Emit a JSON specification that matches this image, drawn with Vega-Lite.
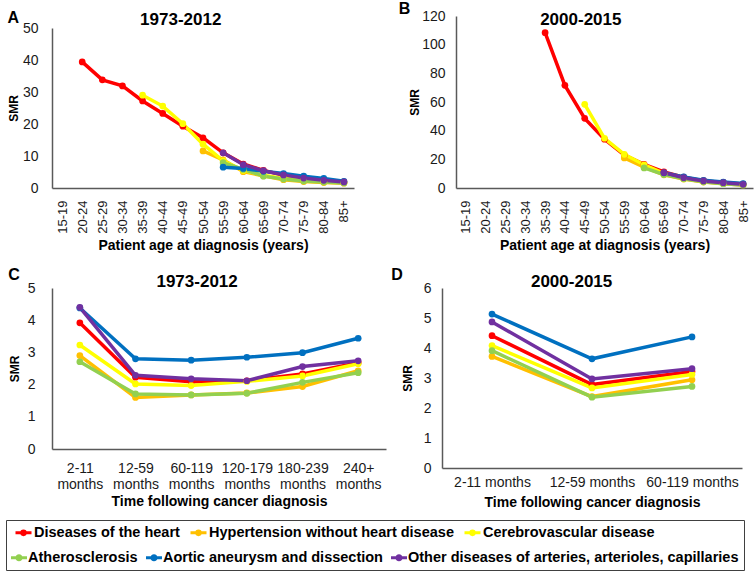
{
  "$schema": "https://vega.github.io/schema/vega-lite/v6.json",
  "background": "white",
  "padding": {"left": 5, "top": 1, "right": 5, "bottom": 5},
  "datasets": {
    "ageA": [
      {"cause": "Diseases of the heart", "age": "20-24", "smr": 39.4},
      {"cause": "Diseases of the heart", "age": "25-29", "smr": 33.8},
      {"cause": "Diseases of the heart", "age": "30-34", "smr": 31.9},
      {"cause": "Diseases of the heart", "age": "35-39", "smr": 27.2},
      {"cause": "Diseases of the heart", "age": "40-44", "smr": 23.3},
      {"cause": "Diseases of the heart", "age": "45-49", "smr": 19.3},
      {"cause": "Diseases of the heart", "age": "50-54", "smr": 15.7},
      {"cause": "Diseases of the heart", "age": "55-59", "smr": 11.0},
      {"cause": "Diseases of the heart", "age": "60-64", "smr": 7.5},
      {"cause": "Diseases of the heart", "age": "65-69", "smr": 5.5},
      {"cause": "Diseases of the heart", "age": "70-74", "smr": 4.0},
      {"cause": "Diseases of the heart", "age": "75-79", "smr": 3.0},
      {"cause": "Diseases of the heart", "age": "80-84", "smr": 2.3},
      {"cause": "Diseases of the heart", "age": "85+", "smr": 1.9},
      {"cause": "Hypertension without heart disease", "age": "50-54", "smr": 11.6},
      {"cause": "Hypertension without heart disease", "age": "55-59", "smr": 8.8},
      {"cause": "Hypertension without heart disease", "age": "60-64", "smr": 5.1},
      {"cause": "Hypertension without heart disease", "age": "65-69", "smr": 3.8},
      {"cause": "Hypertension without heart disease", "age": "70-74", "smr": 2.6},
      {"cause": "Hypertension without heart disease", "age": "75-79", "smr": 2.0},
      {"cause": "Hypertension without heart disease", "age": "80-84", "smr": 1.7},
      {"cause": "Hypertension without heart disease", "age": "85+", "smr": 1.5},
      {"cause": "Cerebrovascular disease", "age": "35-39", "smr": 29.0},
      {"cause": "Cerebrovascular disease", "age": "40-44", "smr": 25.6},
      {"cause": "Cerebrovascular disease", "age": "45-49", "smr": 20.1},
      {"cause": "Cerebrovascular disease", "age": "50-54", "smr": 13.7},
      {"cause": "Cerebrovascular disease", "age": "55-59", "smr": 8.5},
      {"cause": "Cerebrovascular disease", "age": "60-64", "smr": 5.5},
      {"cause": "Cerebrovascular disease", "age": "65-69", "smr": 4.0},
      {"cause": "Cerebrovascular disease", "age": "70-74", "smr": 3.0},
      {"cause": "Cerebrovascular disease", "age": "75-79", "smr": 2.5},
      {"cause": "Cerebrovascular disease", "age": "80-84", "smr": 2.0},
      {"cause": "Cerebrovascular disease", "age": "85+", "smr": 1.7},
      {"cause": "Atherosclerosis", "age": "55-59", "smr": 7.9},
      {"cause": "Atherosclerosis", "age": "60-64", "smr": 5.8},
      {"cause": "Atherosclerosis", "age": "65-69", "smr": 3.7},
      {"cause": "Atherosclerosis", "age": "70-74", "smr": 2.8},
      {"cause": "Atherosclerosis", "age": "75-79", "smr": 2.2},
      {"cause": "Atherosclerosis", "age": "80-84", "smr": 1.9},
      {"cause": "Atherosclerosis", "age": "85+", "smr": 1.6},
      {"cause": "Aortic aneurysm and dissection", "age": "55-59", "smr": 6.5},
      {"cause": "Aortic aneurysm and dissection", "age": "60-64", "smr": 6.1},
      {"cause": "Aortic aneurysm and dissection", "age": "65-69", "smr": 5.2},
      {"cause": "Aortic aneurysm and dissection", "age": "70-74", "smr": 4.5},
      {"cause": "Aortic aneurysm and dissection", "age": "75-79", "smr": 3.7},
      {"cause": "Aortic aneurysm and dissection", "age": "80-84", "smr": 3.0},
      {"cause": "Aortic aneurysm and dissection", "age": "85+", "smr": 2.1},
      {"cause": "Other diseases of arteries, arterioles, capillaries", "age": "55-59", "smr": 11.0},
      {"cause": "Other diseases of arteries, arterioles, capillaries", "age": "60-64", "smr": 7.3},
      {"cause": "Other diseases of arteries, arterioles, capillaries", "age": "65-69", "smr": 5.4},
      {"cause": "Other diseases of arteries, arterioles, capillaries", "age": "70-74", "smr": 4.1},
      {"cause": "Other diseases of arteries, arterioles, capillaries", "age": "75-79", "smr": 3.1},
      {"cause": "Other diseases of arteries, arterioles, capillaries", "age": "80-84", "smr": 2.4},
      {"cause": "Other diseases of arteries, arterioles, capillaries", "age": "85+", "smr": 1.9}
    ],
    "ageB": [
      {"cause": "Diseases of the heart", "age": "35-39", "smr": 108.4},
      {"cause": "Diseases of the heart", "age": "40-44", "smr": 71.6},
      {"cause": "Diseases of the heart", "age": "45-49", "smr": 48.6},
      {"cause": "Diseases of the heart", "age": "50-54", "smr": 34.0},
      {"cause": "Diseases of the heart", "age": "55-59", "smr": 23.0},
      {"cause": "Diseases of the heart", "age": "60-64", "smr": 16.5},
      {"cause": "Diseases of the heart", "age": "65-69", "smr": 11.2},
      {"cause": "Diseases of the heart", "age": "70-74", "smr": 7.6},
      {"cause": "Diseases of the heart", "age": "75-79", "smr": 5.1},
      {"cause": "Diseases of the heart", "age": "80-84", "smr": 3.9},
      {"cause": "Diseases of the heart", "age": "85+", "smr": 2.8},
      {"cause": "Hypertension without heart disease", "age": "55-59", "smr": 21.0},
      {"cause": "Hypertension without heart disease", "age": "60-64", "smr": 14.5},
      {"cause": "Hypertension without heart disease", "age": "65-69", "smr": 9.2},
      {"cause": "Hypertension without heart disease", "age": "70-74", "smr": 6.2},
      {"cause": "Hypertension without heart disease", "age": "75-79", "smr": 4.1},
      {"cause": "Hypertension without heart disease", "age": "80-84", "smr": 3.0},
      {"cause": "Hypertension without heart disease", "age": "85+", "smr": 2.1},
      {"cause": "Cerebrovascular disease", "age": "45-49", "smr": 58.4},
      {"cause": "Cerebrovascular disease", "age": "50-54", "smr": 34.7},
      {"cause": "Cerebrovascular disease", "age": "55-59", "smr": 23.5},
      {"cause": "Cerebrovascular disease", "age": "60-64", "smr": 16.2},
      {"cause": "Cerebrovascular disease", "age": "65-69", "smr": 10.2},
      {"cause": "Cerebrovascular disease", "age": "70-74", "smr": 7.0},
      {"cause": "Cerebrovascular disease", "age": "75-79", "smr": 4.6},
      {"cause": "Cerebrovascular disease", "age": "80-84", "smr": 3.4},
      {"cause": "Cerebrovascular disease", "age": "85+", "smr": 2.4},
      {"cause": "Atherosclerosis", "age": "60-64", "smr": 14.0},
      {"cause": "Atherosclerosis", "age": "65-69", "smr": 9.4},
      {"cause": "Atherosclerosis", "age": "70-74", "smr": 6.5},
      {"cause": "Atherosclerosis", "age": "75-79", "smr": 4.3},
      {"cause": "Atherosclerosis", "age": "80-84", "smr": 3.0},
      {"cause": "Atherosclerosis", "age": "85+", "smr": 2.1},
      {"cause": "Aortic aneurysm and dissection", "age": "65-69", "smr": 10.6},
      {"cause": "Aortic aneurysm and dissection", "age": "70-74", "smr": 7.7},
      {"cause": "Aortic aneurysm and dissection", "age": "75-79", "smr": 5.4},
      {"cause": "Aortic aneurysm and dissection", "age": "80-84", "smr": 4.2},
      {"cause": "Aortic aneurysm and dissection", "age": "85+", "smr": 3.1},
      {"cause": "Other diseases of arteries, arterioles, capillaries", "age": "65-69", "smr": 10.7},
      {"cause": "Other diseases of arteries, arterioles, capillaries", "age": "70-74", "smr": 7.2},
      {"cause": "Other diseases of arteries, arterioles, capillaries", "age": "75-79", "smr": 4.9},
      {"cause": "Other diseases of arteries, arterioles, capillaries", "age": "80-84", "smr": 3.7},
      {"cause": "Other diseases of arteries, arterioles, capillaries", "age": "85+", "smr": 2.6}
    ],
    "timeC": [
      {"cause": "Diseases of the heart", "time": "2-11 months", "smr": 3.92},
      {"cause": "Diseases of the heart", "time": "12-59 months", "smr": 2.23},
      {"cause": "Diseases of the heart", "time": "60-119 months", "smr": 2.09},
      {"cause": "Diseases of the heart", "time": "120-179 months", "smr": 2.12},
      {"cause": "Diseases of the heart", "time": "180-239 months", "smr": 2.33},
      {"cause": "Diseases of the heart", "time": "240+ months", "smr": 2.68},
      {"cause": "Hypertension without heart disease", "time": "2-11 months", "smr": 2.90},
      {"cause": "Hypertension without heart disease", "time": "12-59 months", "smr": 1.60},
      {"cause": "Hypertension without heart disease", "time": "60-119 months", "smr": 1.68},
      {"cause": "Hypertension without heart disease", "time": "120-179 months", "smr": 1.74},
      {"cause": "Hypertension without heart disease", "time": "180-239 months", "smr": 1.94},
      {"cause": "Hypertension without heart disease", "time": "240+ months", "smr": 2.43},
      {"cause": "Cerebrovascular disease", "time": "2-11 months", "smr": 3.23},
      {"cause": "Cerebrovascular disease", "time": "12-59 months", "smr": 2.02},
      {"cause": "Cerebrovascular disease", "time": "60-119 months", "smr": 1.97},
      {"cause": "Cerebrovascular disease", "time": "120-179 months", "smr": 2.10},
      {"cause": "Cerebrovascular disease", "time": "180-239 months", "smr": 2.27},
      {"cause": "Cerebrovascular disease", "time": "240+ months", "smr": 2.65},
      {"cause": "Atherosclerosis", "time": "2-11 months", "smr": 2.71},
      {"cause": "Atherosclerosis", "time": "12-59 months", "smr": 1.71},
      {"cause": "Atherosclerosis", "time": "60-119 months", "smr": 1.68},
      {"cause": "Atherosclerosis", "time": "120-179 months", "smr": 1.73},
      {"cause": "Atherosclerosis", "time": "180-239 months", "smr": 2.07},
      {"cause": "Atherosclerosis", "time": "240+ months", "smr": 2.37},
      {"cause": "Aortic aneurysm and dissection", "time": "2-11 months", "smr": 4.38},
      {"cause": "Aortic aneurysm and dissection", "time": "12-59 months", "smr": 2.80},
      {"cause": "Aortic aneurysm and dissection", "time": "60-119 months", "smr": 2.76},
      {"cause": "Aortic aneurysm and dissection", "time": "120-179 months", "smr": 2.85},
      {"cause": "Aortic aneurysm and dissection", "time": "180-239 months", "smr": 2.99},
      {"cause": "Aortic aneurysm and dissection", "time": "240+ months", "smr": 3.44},
      {"cause": "Other diseases of arteries, arterioles, capillaries", "time": "2-11 months", "smr": 4.40},
      {"cause": "Other diseases of arteries, arterioles, capillaries", "time": "12-59 months", "smr": 2.29},
      {"cause": "Other diseases of arteries, arterioles, capillaries", "time": "60-119 months", "smr": 2.18},
      {"cause": "Other diseases of arteries, arterioles, capillaries", "time": "120-179 months", "smr": 2.12},
      {"cause": "Other diseases of arteries, arterioles, capillaries", "time": "180-239 months", "smr": 2.56},
      {"cause": "Other diseases of arteries, arterioles, capillaries", "time": "240+ months", "smr": 2.74}
    ],
    "timeD": [
      {"cause": "Diseases of the heart", "time": "2-11 months", "smr": 4.41},
      {"cause": "Diseases of the heart", "time": "12-59 months", "smr": 2.78},
      {"cause": "Diseases of the heart", "time": "60-119 months", "smr": 3.22},
      {"cause": "Hypertension without heart disease", "time": "2-11 months", "smr": 3.72},
      {"cause": "Hypertension without heart disease", "time": "12-59 months", "smr": 2.38},
      {"cause": "Hypertension without heart disease", "time": "60-119 months", "smr": 2.94},
      {"cause": "Cerebrovascular disease", "time": "2-11 months", "smr": 4.08},
      {"cause": "Cerebrovascular disease", "time": "12-59 months", "smr": 2.67},
      {"cause": "Cerebrovascular disease", "time": "60-119 months", "smr": 3.12},
      {"cause": "Atherosclerosis", "time": "2-11 months", "smr": 3.91},
      {"cause": "Atherosclerosis", "time": "12-59 months", "smr": 2.36},
      {"cause": "Atherosclerosis", "time": "60-119 months", "smr": 2.72},
      {"cause": "Aortic aneurysm and dissection", "time": "2-11 months", "smr": 5.13},
      {"cause": "Aortic aneurysm and dissection", "time": "12-59 months", "smr": 3.64},
      {"cause": "Aortic aneurysm and dissection", "time": "60-119 months", "smr": 4.37},
      {"cause": "Other diseases of arteries, arterioles, capillaries", "time": "2-11 months", "smr": 4.87},
      {"cause": "Other diseases of arteries, arterioles, capillaries", "time": "12-59 months", "smr": 2.97},
      {"cause": "Other diseases of arteries, arterioles, capillaries", "time": "60-119 months", "smr": 3.31}
    ]
  },
  "spacing": 14,
  "vconcat": [
    {
      "spacing": 44,
      "hconcat": [
        {
          "title": {"text": "A", "anchor": "start", "frame": "bounds", "fontSize": 16, "offset": -15},
          "vconcat": [
            {
              "width": 302,
              "height": 172,
              "title": {"text": "1973-2012", "frame": "bounds", "offset": -13},
              "data": {"name": "ageA"},
              "encoding": {
                "x": {"field": "age", "type": "ordinal", "scale": {"type": "point", "padding": 0.5, "domain": ["15-19","20-24","25-29","30-34","35-39","40-44","45-49","50-54","55-59","60-64","65-69","70-74","75-79","80-84","85+"]}, "axis": {"title": "Patient age at diagnosis (years)", "labelAngle": -90, "labelFontSize": 13, "labelPadding": 12, "titleFontSize": 14, "titlePadding": 5}},
                "y": {"field": "smr", "type": "quantitative", "scale": {"domain": [0, 50], "range": [172, 12]}, "axis": {"title": "SMR", "values": [0,10,20,30,40,50], "labelPadding": 14, "titlePadding": 2}},
                "order": {"value": null}
              },
              "layer": [
                {"mark": {"type": "line", "strokeWidth": 3.5},
                 "encoding": {"stroke": {"field": "cause", "type": "nominal", "scale": {"domain": ["Diseases of the heart","Hypertension without heart disease","Cerebrovascular disease","Atherosclerosis","Aortic aneurysm and dissection","Other diseases of arteries, arterioles, capillaries"], "range": ["#FF0000","#FFC000","#FFFF00","#92D050","#0070C0","#7030A0"]},
                   "legend": {"title": null, "orient": "none", "legendX": -38, "legendY": 507, "direction": "horizontal", "values": ["Diseases of the heart","Hypertension without heart disease","Cerebrovascular disease"], "symbolType": "M-1,0H1M-0.22,0A0.22,0.22,0,1,1,0.22,0A0.22,0.22,0,1,1,-0.22,0Z", "symbolSize": 256, "symbolStrokeWidth": 3, "labelFontSize": 14.5, "labelFontWeight": "bold", "labelColor": "#000", "labelLimit": 0, "labelOffset": 1, "padding": 0, "columnPadding": 4}}}},
                {"mark": {"type": "point", "filled": true, "size": 45, "opacity": 1},
                 "encoding": {"fill": {"field": "cause", "type": "nominal", "scale": {"domain": ["Other diseases of arteries, arterioles, capillaries","Aortic aneurysm and dissection","Atherosclerosis","Cerebrovascular disease","Hypertension without heart disease","Diseases of the heart"], "range": ["#7030A0","#0070C0","#92D050","#FFFF00","#FFC000","#FF0000"]},
                   "legend": {"title": "\u00a0", "titleOrient": "top", "titleFontSize": 14.5, "titlePadding": 10, "orient": "none", "legendX": -46, "legendY": 504, "direction": "horizontal", "values": ["Atherosclerosis","Aortic aneurysm and dissection","Other diseases of arteries, arterioles, capillaries"], "symbolType": "M-1,-0.18H1V0.18H-1Z M-0.45,0A0.45,0.45,0,1,1,0.45,0A0.45,0.45,0,1,1,-0.45,0Z", "symbolSize": 256, "symbolStrokeWidth": 0, "labelFontSize": 14.5, "labelFontWeight": "bold", "labelColor": "#000", "labelLimit": 0, "labelOffset": 1, "strokeColor": "#404040", "padding": 5, "columnPadding": 8}}}}
              ]
            }
          ]
        },
        {
          "title": {"text": "B", "anchor": "start", "frame": "bounds", "fontSize": 16, "offset": -15, "dx": -10, "dy": -7},
          "vconcat": [
            {
              "width": 297,
              "height": 172,
              "title": {"text": "2000-2015", "frame": "bounds", "offset": -20},
              "data": {"name": "ageB"},
              "encoding": {
                "x": {"field": "age", "type": "ordinal", "scale": {"type": "point", "padding": 0.5, "domain": ["15-19","20-24","25-29","30-34","35-39","40-44","45-49","50-54","55-59","60-64","65-69","70-74","75-79","80-84","85+"]}, "axis": {"title": "Patient age at diagnosis (years)", "labelAngle": -90, "labelFontSize": 13, "labelPadding": 12, "titleFontSize": 14, "titlePadding": 5}},
                "y": {"field": "smr", "type": "quantitative", "scale": {"domain": [0, 120]}, "axis": {"title": "SMR", "values": [0,20,40,60,80,100,120], "labelPadding": 11, "titlePadding": 0}},
                "order": {"value": null}
              },
              "layer": [
                {"mark": {"type": "line", "strokeWidth": 3.5},
                 "encoding": {"stroke": {"field": "cause", "type": "nominal", "scale": {"domain": ["Diseases of the heart","Hypertension without heart disease","Cerebrovascular disease","Atherosclerosis","Aortic aneurysm and dissection","Other diseases of arteries, arterioles, capillaries"], "range": ["#FF0000","#FFC000","#FFFF00","#92D050","#0070C0","#7030A0"]},
                   "legend": {"title": null, "orient": "none", "legendX": -38, "legendY": 507, "direction": "horizontal", "values": ["Diseases of the heart","Hypertension without heart disease","Cerebrovascular disease"], "symbolType": "M-1,0H1M-0.22,0A0.22,0.22,0,1,1,0.22,0A0.22,0.22,0,1,1,-0.22,0Z", "symbolSize": 256, "symbolStrokeWidth": 3, "labelFontSize": 14.5, "labelFontWeight": "bold", "labelColor": "#000", "labelLimit": 0, "labelOffset": 1, "padding": 0, "columnPadding": 4}}}},
                {"mark": {"type": "point", "filled": true, "size": 45, "opacity": 1},
                 "encoding": {"fill": {"field": "cause", "type": "nominal", "scale": {"domain": ["Other diseases of arteries, arterioles, capillaries","Aortic aneurysm and dissection","Atherosclerosis","Cerebrovascular disease","Hypertension without heart disease","Diseases of the heart"], "range": ["#7030A0","#0070C0","#92D050","#FFFF00","#FFC000","#FF0000"]},
                   "legend": {"title": "\u00a0", "titleOrient": "top", "titleFontSize": 14.5, "titlePadding": 10, "orient": "none", "legendX": -46, "legendY": 504, "direction": "horizontal", "values": ["Atherosclerosis","Aortic aneurysm and dissection","Other diseases of arteries, arterioles, capillaries"], "symbolType": "M-1,-0.18H1V0.18H-1Z M-0.45,0A0.45,0.45,0,1,1,0.45,0A0.45,0.45,0,1,1,-0.45,0Z", "symbolSize": 256, "symbolStrokeWidth": 0, "labelFontSize": 14.5, "labelFontWeight": "bold", "labelColor": "#000", "labelLimit": 0, "labelOffset": 1, "strokeColor": "#404040", "padding": 5, "columnPadding": 8}}}}
              ]
            }
          ]
        }
      ]
    },
    {
      "spacing": 5,
      "hconcat": [
        {
          "title": {"text": "C", "anchor": "start", "frame": "bounds", "fontSize": 16, "offset": -10},
          "vconcat": [
            {
              "width": 334,
              "height": 161,
              "title": {"text": "1973-2012", "frame": "bounds", "offset": -10},
              "data": {"name": "timeC"},
              "encoding": {
                "x": {"field": "time", "type": "ordinal", "scale": {"type": "point", "padding": 0.5, "domain": ["2-11 months","12-59 months","60-119 months","120-179 months","180-239 months","240+ months"]}, "axis": {"title": "Time following cancer diagnosis", "labelAngle": 0, "labelExpr": "split(datum.label, ' ')", "labelLineHeight": 16, "labelFontSize": 14, "labelPadding": 12, "titleFontSize": 14, "titlePadding": 3}},
                "y": {"field": "smr", "type": "quantitative", "scale": {"domain": [0, 5]}, "axis": {"title": "SMR", "values": [0,1,2,3,4,5], "labelPadding": 17, "titlePadding": 6}},
                "order": {"value": null}
              },
              "layer": [
                {"mark": {"type": "line", "strokeWidth": 3.5},
                 "encoding": {"stroke": {"field": "cause", "type": "nominal", "scale": {"domain": ["Diseases of the heart","Hypertension without heart disease","Cerebrovascular disease","Atherosclerosis","Aortic aneurysm and dissection","Other diseases of arteries, arterioles, capillaries"], "range": ["#FF0000","#FFC000","#FFFF00","#92D050","#0070C0","#7030A0"]},
                   "legend": {"title": null, "orient": "none", "legendX": -38, "legendY": 507, "direction": "horizontal", "values": ["Diseases of the heart","Hypertension without heart disease","Cerebrovascular disease"], "symbolType": "M-1,0H1M-0.22,0A0.22,0.22,0,1,1,0.22,0A0.22,0.22,0,1,1,-0.22,0Z", "symbolSize": 256, "symbolStrokeWidth": 3, "labelFontSize": 14.5, "labelFontWeight": "bold", "labelColor": "#000", "labelLimit": 0, "labelOffset": 1, "padding": 0, "columnPadding": 4}}}},
                {"mark": {"type": "point", "filled": true, "size": 45, "opacity": 1},
                 "encoding": {"fill": {"field": "cause", "type": "nominal", "scale": {"domain": ["Other diseases of arteries, arterioles, capillaries","Aortic aneurysm and dissection","Atherosclerosis","Cerebrovascular disease","Hypertension without heart disease","Diseases of the heart"], "range": ["#7030A0","#0070C0","#92D050","#FFFF00","#FFC000","#FF0000"]},
                   "legend": {"title": "\u00a0", "titleOrient": "top", "titleFontSize": 14.5, "titlePadding": 10, "orient": "none", "legendX": -46, "legendY": 504, "direction": "horizontal", "values": ["Atherosclerosis","Aortic aneurysm and dissection","Other diseases of arteries, arterioles, capillaries"], "symbolType": "M-1,-0.18H1V0.18H-1Z M-0.45,0A0.45,0.45,0,1,1,0.45,0A0.45,0.45,0,1,1,-0.45,0Z", "symbolSize": 256, "symbolStrokeWidth": 0, "labelFontSize": 14.5, "labelFontWeight": "bold", "labelColor": "#000", "labelLimit": 0, "labelOffset": 1, "strokeColor": "#404040", "padding": 5, "columnPadding": 8}}}}
              ]
            }
          ]
        },
        {
          "title": {"text": "D", "anchor": "start", "frame": "bounds", "fontSize": 16, "offset": -10, "dx": -10},
          "vconcat": [
            {
              "width": 300,
              "height": 180,
              "title": {"text": "2000-2015", "frame": "bounds", "offset": -10},
              "data": {"name": "timeD"},
              "encoding": {
                "x": {"field": "time", "type": "ordinal", "scale": {"type": "point", "padding": 0.5, "domain": ["2-11 months","12-59 months","60-119 months"]}, "axis": {"title": "Time following cancer diagnosis", "labelAngle": 0, "labelFontSize": 14, "labelPadding": 7, "titleFontSize": 14, "titlePadding": 6}},
                "y": {"field": "smr", "type": "quantitative", "scale": {"domain": [0, 6]}, "axis": {"title": "SMR", "values": [0,1,2,3,4,5,6], "labelPadding": 11, "titlePadding": 9}},
                "order": {"value": null}
              },
              "layer": [
                {"mark": {"type": "line", "strokeWidth": 3.5},
                 "encoding": {"stroke": {"field": "cause", "type": "nominal", "scale": {"domain": ["Diseases of the heart","Hypertension without heart disease","Cerebrovascular disease","Atherosclerosis","Aortic aneurysm and dissection","Other diseases of arteries, arterioles, capillaries"], "range": ["#FF0000","#FFC000","#FFFF00","#92D050","#0070C0","#7030A0"]},
                   "legend": {"title": null, "orient": "none", "legendX": -38, "legendY": 507, "direction": "horizontal", "values": ["Diseases of the heart","Hypertension without heart disease","Cerebrovascular disease"], "symbolType": "M-1,0H1M-0.22,0A0.22,0.22,0,1,1,0.22,0A0.22,0.22,0,1,1,-0.22,0Z", "symbolSize": 256, "symbolStrokeWidth": 3, "labelFontSize": 14.5, "labelFontWeight": "bold", "labelColor": "#000", "labelLimit": 0, "labelOffset": 1, "padding": 0, "columnPadding": 4}}}},
                {"mark": {"type": "point", "filled": true, "size": 45, "opacity": 1},
                 "encoding": {"fill": {"field": "cause", "type": "nominal", "scale": {"domain": ["Other diseases of arteries, arterioles, capillaries","Aortic aneurysm and dissection","Atherosclerosis","Cerebrovascular disease","Hypertension without heart disease","Diseases of the heart"], "range": ["#7030A0","#0070C0","#92D050","#FFFF00","#FFC000","#FF0000"]},
                   "legend": {"title": "\u00a0", "titleOrient": "top", "titleFontSize": 14.5, "titlePadding": 10, "orient": "none", "legendX": -46, "legendY": 504, "direction": "horizontal", "values": ["Atherosclerosis","Aortic aneurysm and dissection","Other diseases of arteries, arterioles, capillaries"], "symbolType": "M-1,-0.18H1V0.18H-1Z M-0.45,0A0.45,0.45,0,1,1,0.45,0A0.45,0.45,0,1,1,-0.45,0Z", "symbolSize": 256, "symbolStrokeWidth": 0, "labelFontSize": 14.5, "labelFontWeight": "bold", "labelColor": "#000", "labelLimit": 0, "labelOffset": 1, "strokeColor": "#404040", "padding": 5, "columnPadding": 8}}}}
              ]
            }
          ]
        }
      ]
    }
  ],
  "config": {
    "font": "Liberation Sans",
    "view": {"stroke": null},
    "axis": {"grid": false, "ticks": false, "domainColor": "#595959", "domainWidth": 1.5, "labelColor": "#1a1a1a", "labelFontSize": 14, "labelFont": "Liberation Sans", "titleFont": "Liberation Sans", "titleFontSize": 12, "titleFontWeight": "bold", "titleColor": "#000"},
    "title": {"fontSize": 17, "fontWeight": "bold", "color": "#000", "font": "Liberation Sans"},
    "legend": {"labelFont": "Liberation Sans", "titleFont": "Liberation Sans"}
  }
}
